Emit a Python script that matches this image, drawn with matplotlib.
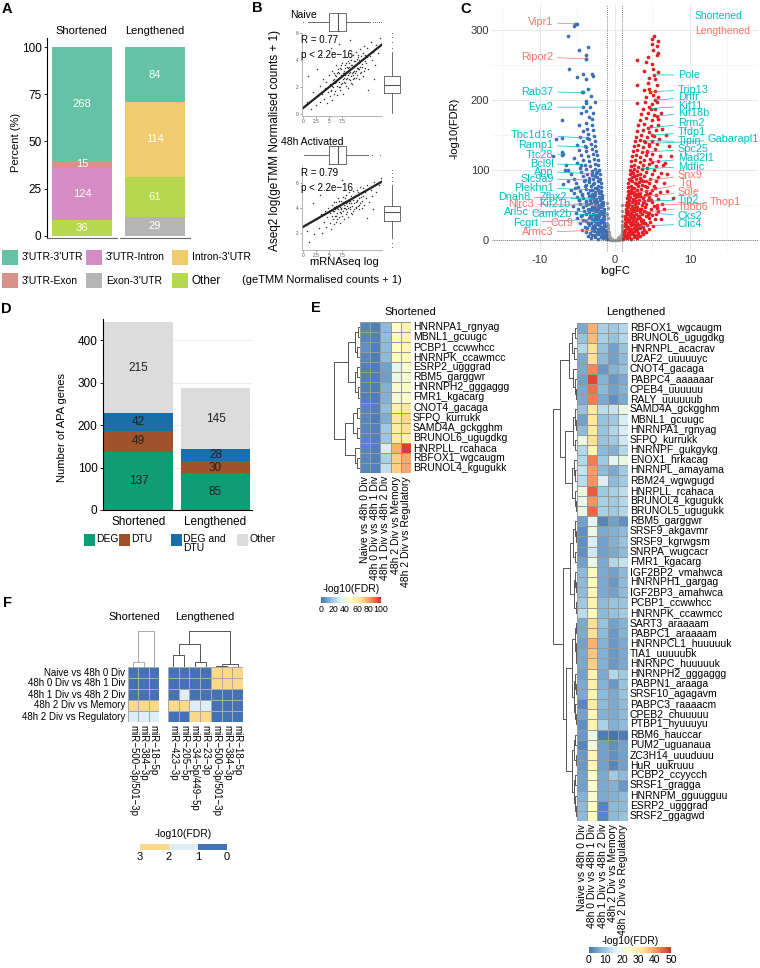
import matplotlib
matplotlib.use("Agg")
import matplotlib.pyplot as plt
import numpy as np
from matplotlib.colors import LinearSegmentedColormap, ListedColormap, BoundaryNorm, Normalize
from matplotlib.patches import Rectangle

plt.rcParams["font.family"] = ["Liberation Sans", "DejaVu Sans"]

W, H = 760, 968

# ---------------- A: APA event types ----------------
a_groups = ["Shortened", "Lengthened"]
a_short_cats = ["Other", "3'UTR-Intron", "3'UTR-Exon", "3'UTR-3'UTR"]
a_short_counts = [36, 124, 15, 268]
a_long_cats = ["Exon-3'UTR", "Other", "Intron-3'UTR", "3'UTR-3'UTR"]
a_long_counts = [29, 61, 114, 84]
a_legend = ["3'UTR-3'UTR", "3'UTR-Intron", "Intron-3'UTR", "3'UTR-Exon", "Exon-3'UTR", "Other"]
a_colors = {
    "3'UTR-3'UTR": "#66c2a5", "3'UTR-Intron": "#d68dc5", "Intron-3'UTR": "#f0cc6e",
    "3'UTR-Exon": "#d8918a", "Exon-3'UTR": "#b5b5b5", "Other": "#b6d84f",
}

# ---------------- B: Aseq vs mRNAseq ----------------
naive_pts = [
    (0.8, 0.9), (1.5, 0.4), (2.0, 1.6), (2.4, 0.7), (2.8, 1.3), (3.2, 2.1), (3.3, 0.9), (3.7, 1.5),
    (3.9, 2.6), (4.1, 1.1), (4.3, 1.9), (4.5, 2.4), (4.6, 0.8), (4.8, 1.6), (5.0, 2.9), (5.1, 1.3),
    (5.2, 2.2), (5.4, 1.8), (5.5, 3.2), (5.6, 1.0), (5.7, 2.5), (5.8, 2.0), (5.9, 1.5), (6.0, 3.0),
    (6.1, 2.3), (6.2, 1.7), (6.3, 2.8), (6.4, 3.6), (6.5, 2.1), (6.6, 1.4), (6.7, 2.6), (6.8, 3.1),
    (6.9, 2.0), (7.0, 2.4), (7.1, 3.4), (7.2, 1.8), (7.3, 2.9), (7.4, 2.2), (7.5, 3.8), (7.6, 2.6),
    (7.7, 1.5), (7.8, 3.2), (7.9, 2.4), (8.0, 2.9), (8.1, 3.6), (8.2, 2.1), (8.3, 3.1), (8.4, 4.2),
    (8.5, 2.7), (8.6, 3.4), (8.7, 1.9), (8.8, 3.0), (8.9, 3.8), (9.0, 2.5), (9.1, 3.3), (9.2, 4.0),
    (9.3, 2.8), (9.4, 3.6), (9.5, 2.2), (9.6, 3.1), (9.7, 4.4), (9.8, 3.5), (9.9, 2.7), (10.0, 3.9),
    (10.1, 3.2), (10.2, 4.6), (10.3, 2.9), (10.4, 3.7), (10.5, 4.2), (10.6, 3.3), (10.7, 2.6),
    (10.8, 4.0), (10.9, 3.5), (11.0, 4.8), (11.1, 3.1), (11.2, 4.3), (11.4, 3.7), (11.5, 2.8),
    (11.6, 4.1), (11.8, 5.0), (11.9, 3.4), (12.0, 4.4), (12.2, 3.8), (12.4, 4.9), (12.6, 3.3),
    (12.8, 4.3), (13.0, 5.3), (13.2, 4.0), (13.5, 4.6), (13.8, 3.6), (14.1, 5.1), (14.5, 4.5),
    (14.9, 5.6), (3.5, 4.4), (5.3, 4.9), (12.5, 1.8), (9.0, 5.5), (1.0, 2.8), (2.6, 3.3), (7.0, 5.2),
    (13.6, 2.6), (6.2, 2.9), (6.4, 2.4), (6.7, 3.3), (6.9, 2.7), (7.1, 2.0), (7.3, 3.6), (7.5, 2.3),
    (7.6, 3.0), (7.8, 2.7), (8.0, 3.4), (8.1, 2.3), (8.3, 2.6), (8.4, 3.5), (8.6, 2.9), (8.7, 3.9),
    (8.9, 2.6), (9.0, 3.1), (9.2, 3.6), (9.3, 2.3), (9.5, 3.4), (9.6, 2.9), (9.8, 3.9), (9.9, 3.2),
    (10.1, 3.6), (10.2, 2.7), (10.4, 4.1), (10.5, 3.4), (10.7, 3.8), (10.9, 3.0), (11.1, 4.0),
    (11.3, 3.5), (11.5, 4.5), (11.7, 3.2), (12.0, 3.9), (12.3, 4.2), (5.9, 2.6), (5.6, 2.1),
    (5.3, 1.7), (6.6, 3.0), (7.0, 3.0), (7.4, 3.3), (7.9, 3.0), (8.2, 3.8), (8.8, 3.5), (9.4, 3.0),
    (9.7, 2.6), (10.0, 3.0), (10.3, 3.4), (10.6, 4.4), (10.8, 3.3),
]
act_pts = [
    (0.8, 2.2), (1.5, 2.9), (2.1, 1.9), (2.6, 3.1), (3.0, 2.4), (3.4, 3.5), (3.6, 2.0), (4.0, 2.9),
    (4.2, 3.8), (4.5, 2.5), (4.7, 3.3), (4.9, 4.0), (5.1, 2.8), (5.2, 3.6), (5.4, 2.3), (5.5, 4.3),
    (5.7, 3.1), (5.8, 3.8), (5.9, 2.7), (6.0, 4.5), (6.1, 3.4), (6.2, 3.9), (6.3, 2.9), (6.4, 4.2),
    (6.5, 3.6), (6.6, 3.1), (6.7, 4.8), (6.8, 3.9), (6.9, 3.3), (7.0, 4.3), (7.1, 3.7), (7.2, 2.8),
    (7.3, 4.6), (7.4, 4.0), (7.5, 3.4), (7.6, 4.9), (7.7, 3.8), (7.8, 4.3), (7.9, 3.1), (8.0, 4.6),
    (8.1, 4.0), (8.2, 3.5), (8.3, 5.1), (8.4, 4.2), (8.5, 3.7), (8.6, 4.7), (8.7, 3.3), (8.8, 4.4),
    (8.9, 5.3), (9.0, 3.9), (9.1, 4.6), (9.2, 3.6), (9.3, 5.0), (9.4, 4.2), (9.5, 4.8), (9.6, 3.8),
    (9.7, 5.4), (9.8, 4.4), (9.9, 3.9), (10.0, 5.0), (10.1, 4.5), (10.2, 4.0), (10.3, 5.5),
    (10.4, 4.7), (10.5, 4.2), (10.6, 5.1), (10.7, 3.9), (10.8, 4.8), (10.9, 5.7), (11.0, 4.4),
    (11.2, 5.2), (11.4, 4.6), (11.6, 5.6), (11.8, 4.3), (12.0, 5.3), (12.2, 4.8), (12.4, 5.9),
    (12.7, 4.5), (13.0, 5.5), (13.3, 5.0), (13.7, 6.1), (14.1, 5.3), (14.6, 5.9), (15.0, 6.4),
    (6.0, 3.8), (6.3, 4.5), (6.6, 4.0), (6.9, 4.6), (7.1, 4.1), (7.4, 3.6), (7.7, 4.5), (7.9, 4.0),
    (8.1, 4.8), (8.3, 3.9), (8.5, 4.5), (8.7, 4.0), (8.9, 4.6), (9.1, 4.1), (9.3, 4.4), (9.5, 3.5),
    (9.7, 4.7), (9.9, 4.9), (10.1, 4.1), (10.3, 4.6), (10.5, 5.3), (10.8, 4.3), (11.1, 4.9),
    (11.3, 4.0), (11.5, 5.0), (5.5, 3.4), (5.9, 4.1), (6.4, 3.4), (7.3, 3.9), (8.2, 4.4),
    (2.0, 4.4), (3.2, 5.1), (12.3, 3.2), (7.5, 6.3), (1.2, 1.3), (13.5, 3.9),
]
naive_fit = [(0.0, 0.44), (15.2, 5.15)]
act_fit = [(0.0, 2.5), (15.2, 6.15)]
naive_top_box = dict(med=6.7, q1=5.0, q3=8.3, whislo=0.9, whishi=12.8, fliers=[0.0, 13.4, 13.8, 14.2, 14.6, 15.0])
naive_side_box = dict(med=2.15, q1=1.55, q3=2.8, whislo=0.05, whishi=4.6, fliers=[4.9, 5.3, 5.7, 6.0])
act_top_box = dict(med=6.7, q1=5.0, q3=8.3, whislo=0.2, whishi=12.6, fliers=[13.3, 14.9])
act_side_box = dict(med=3.7, q1=3.0, q3=4.2, whislo=1.6, whishi=5.9, fliers=[6.2, 6.5, 6.8, 7.1, 1.2, 0.9])

# ---------------- C: volcano ----------------
red_pts = [
    (1.1, 2), (1.3, 4), (1.6, 3), (1.9, 5), (2.2, 2), (2.6, 4), (3.0, 3),
    (1.2, 7), (1.5, 8), (1.8, 6), (2.1, 9), (2.5, 7), (2.9, 8), (3.3, 6), (3.7, 9),
    (1.2, 11), (1.4, 13), (1.7, 10), (2.0, 12), (2.3, 11), (2.7, 13), (3.1, 10), (3.6, 12), (4.1, 11),
    (1.3, 15), (1.6, 17), (1.9, 14), (2.2, 16), (2.5, 18), (2.9, 15), (3.4, 17), (3.9, 15), (4.6, 16),
    (1.3, 20), (1.5, 22), (1.8, 19), (2.1, 21), (2.4, 23), (2.8, 20), (3.2, 22), (3.7, 19), (4.3, 21), (5.1, 20),
    (1.4, 25), (1.7, 27), (2.0, 24), (2.3, 26), (2.7, 28), (3.0, 25), (3.5, 27), (4.0, 24), (4.7, 26),
    (1.4, 30), (1.6, 32), (1.9, 29), (2.2, 31), (2.6, 33), (2.9, 30), (3.3, 32), (3.8, 29), (4.5, 31), (5.4, 30),
    (1.4, 35), (1.7, 37), (2.0, 34), (2.4, 36), (2.8, 38), (3.1, 35), (3.6, 37), (4.2, 34), (5.0, 36),
    (1.5, 40), (1.8, 42), (2.1, 39), (2.5, 41), (2.9, 43), (3.4, 40), (3.9, 42), (4.6, 39), (5.8, 41),
    (1.5, 45), (1.8, 47), (2.2, 44), (2.6, 46), (3.0, 48), (3.5, 45), (4.0, 47), (4.8, 44), (5.6, 46),
    (1.5, 50), (1.9, 52), (2.3, 49), (2.7, 51), (3.1, 53), (3.6, 50), (4.2, 52), (5.2, 49), (6.3, 51),
    (1.6, 55), (1.9, 57), (2.3, 54), (2.8, 56), (3.2, 58), (3.7, 55), (4.4, 57), (5.0, 54),
    (1.6, 60), (2.0, 62), (2.4, 59), (2.8, 61), (3.3, 63), (3.8, 60), (4.5, 62), (5.8, 59),
    (1.7, 65), (2.1, 67), (2.5, 64), (2.9, 66), (3.4, 68), (4.0, 65), (4.7, 67), (5.5, 64),
    (1.7, 70), (2.1, 72), (2.6, 69), (3.0, 71), (3.5, 73), (4.1, 70), (4.9, 72), (6.0, 69),
    (1.8, 76), (2.2, 78), (2.6, 75), (3.1, 77), (3.6, 79), (4.3, 76), (5.2, 78),
    (1.8, 82), (2.3, 84), (2.7, 81), (3.2, 83), (3.8, 85), (4.5, 82), (5.5, 84), (6.6, 81),
    (1.9, 88), (2.3, 90), (2.8, 87), (3.3, 89), (3.9, 91), (4.7, 88), (5.8, 90),
    (2.0, 94), (2.4, 96), (2.9, 93), (3.4, 95), (4.1, 97), (4.9, 94), (6.2, 96),
    (2.0, 100), (2.5, 102), (3.0, 99), (3.6, 101), (4.3, 103), (5.2, 100),
    (2.1, 106), (2.6, 108), (3.1, 105), (3.7, 107), (4.5, 109), (5.5, 106), (6.4, 108),
    (2.2, 113), (2.7, 115), (3.3, 112), (3.9, 114), (4.7, 116), (5.8, 113),
    (2.3, 120), (2.8, 122), (3.4, 119), (4.1, 121), (5.0, 123), (6.0, 120),
    (2.4, 127), (3.0, 129), (3.6, 126), (4.3, 128), (5.3, 130),
    (2.5, 134), (3.1, 136), (3.8, 133), (4.6, 135), (5.6, 137), (7.2, 135),
    (2.7, 141), (3.3, 143), (4.0, 140), (4.9, 142), (5.9, 144),
    (2.8, 148), (3.5, 150), (4.3, 147), (5.2, 149), (6.8, 150),
    (3.0, 156), (3.7, 158), (4.5, 155), (5.5, 157), (6.3, 159),
    (3.1, 164), (3.9, 166), (4.8, 163), (5.8, 165),
    (3.3, 172), (4.1, 174), (5.0, 171), (5.7, 173),
    (3.5, 180), (4.4, 182), (5.2, 179), (6.1, 181),
    (3.7, 188), (4.6, 190), (5.4, 187),
    (2.9, 196), (4.0, 198), (4.9, 195), (5.6, 197),
    (4.2, 205), (5.1, 207), (5.8, 204),
    (3.9, 214), (4.5, 216), (5.3, 213),
    (2.9, 222), (4.4, 224), (5.6, 221),
    (4.6, 232), (5.4, 230),
    (3.9, 242), (5.1, 244), (5.8, 240),
    (4.2, 254), (5.0, 252),
    (4.4, 262), (5.6, 264), (2.9, 258),
    (5.1, 272), (5.8, 268),
    (4.9, 280), (5.6, 278),
    (5.0, 288), (5.8, 284), (5.2, 292),
    (7.5, 120), (6.9, 95), (7.0, 70), (6.5, 45), (6.2, 30), (7.8, 60), (6.7, 110),
    (1.35, 5), (1.75, 9), (2.4, 12), (2.05, 16), (2.65, 21), (1.55, 26), (2.45, 30), (3.2, 34),
    (1.65, 38), (2.35, 43), (2.85, 47), (1.75, 53), (2.55, 58), (3.05, 63), (1.95, 68), (2.35, 74),
    (2.9, 80), (2.05, 86), (2.6, 92), (2.25, 98), (3.35, 44), (3.85, 56), (4.35, 66), (3.45, 86),
    (4.0, 78), (3.65, 24), (3.0, 17), (4.4, 36), (4.8, 58), (5.3, 75),
]
blue_pts = [
    (-1.1, 2), (-1.3, 4), (-1.6, 3), (-1.9, 5), (-2.3, 2), (-2.7, 4), (-3.2, 3),
    (-1.2, 7), (-1.5, 8), (-1.8, 6), (-2.2, 9), (-2.6, 7), (-3.0, 8), (-3.6, 6),
    (-1.2, 11), (-1.4, 13), (-1.7, 10), (-2.0, 12), (-2.4, 11), (-2.8, 13), (-3.3, 10), (-3.9, 12),
    (-1.3, 15), (-1.6, 17), (-1.9, 14), (-2.3, 16), (-2.7, 18), (-3.1, 15), (-3.7, 17), (-4.4, 15),
    (-1.3, 20), (-1.5, 22), (-1.8, 19), (-2.1, 21), (-2.5, 23), (-2.9, 20), (-3.4, 22), (-4.0, 19),
    (-1.4, 25), (-1.7, 27), (-2.0, 24), (-2.4, 26), (-2.8, 28), (-3.2, 25), (-3.8, 27), (-4.6, 24),
    (-1.4, 30), (-1.6, 32), (-1.9, 29), (-2.2, 31), (-2.6, 33), (-3.0, 30), (-3.5, 32), (-4.2, 29), (-5.0, 31),
    (-1.4, 35), (-1.7, 37), (-2.1, 34), (-2.5, 36), (-2.9, 38), (-3.3, 35), (-3.9, 37), (-4.5, 34),
    (-1.5, 40), (-1.8, 42), (-2.1, 39), (-2.5, 41), (-3.0, 43), (-3.5, 40), (-4.1, 42), (-5.2, 39),
    (-1.5, 45), (-1.9, 47), (-2.2, 44), (-2.6, 46), (-3.1, 48), (-3.6, 45), (-4.3, 47), (-4.9, 44),
    (-1.6, 50), (-1.9, 52), (-2.3, 49), (-2.7, 51), (-3.2, 53), (-3.8, 50), (-4.6, 52), (-5.6, 49),
    (-1.6, 55), (-2.0, 57), (-2.4, 54), (-2.8, 56), (-3.3, 58), (-3.9, 55), (-4.8, 57),
    (-1.7, 60), (-2.1, 62), (-2.5, 59), (-2.9, 61), (-3.5, 63), (-4.2, 60), (-5.1, 62),
    (-1.7, 65), (-2.1, 67), (-2.6, 64), (-3.0, 66), (-3.6, 68), (-4.4, 65), (-5.5, 67),
    (-1.8, 70), (-2.2, 72), (-2.6, 69), (-3.1, 71), (-3.8, 73), (-4.6, 70), (-5.8, 72),
    (-1.8, 76), (-2.3, 78), (-2.7, 75), (-3.2, 77), (-3.9, 79), (-4.9, 76),
    (-1.9, 82), (-2.3, 84), (-2.8, 81), (-3.4, 83), (-4.1, 85), (-5.2, 82), (-6.3, 84),
    (-2.0, 88), (-2.4, 90), (-2.9, 87), (-3.5, 89), (-4.3, 91), (-5.5, 88),
    (-2.0, 94), (-2.5, 96), (-3.0, 93), (-3.7, 95), (-4.5, 97), (-5.9, 94),
    (-2.1, 100), (-2.6, 102), (-3.1, 99), (-3.8, 101), (-4.7, 103), (-6.2, 100),
    (-2.2, 107), (-2.7, 109), (-3.3, 106), (-4.0, 108), (-5.0, 110), (-6.5, 107),
    (-2.3, 114), (-2.8, 116), (-3.4, 113), (-4.2, 115), (-5.4, 117),
    (-2.4, 121), (-2.9, 123), (-3.6, 120), (-4.5, 122), (-7.1, 122), (-8.2, 120),
    (-2.5, 128), (-3.1, 130), (-3.8, 127), (-4.8, 129), (-7.0, 126),
    (-2.6, 135), (-3.2, 137), (-4.0, 134), (-5.1, 136),
    (-2.7, 142), (-3.4, 144), (-4.3, 141), (-7.8, 145), (-7.1, 146),
    (-2.8, 149), (-3.6, 151), (-4.6, 148),
    (-2.9, 157), (-3.7, 159), (-4.2, 156),
    (-3.0, 165), (-3.9, 167), (-4.8, 164),
    (-3.1, 173), (-3.5, 176), (-7.0, 172),
    (-2.9, 182), (-3.9, 184), (-4.5, 181),
    (-2.7, 198), (-3.8, 196), (-3.9, 199), (-3.3, 190),
    (-4.4, 211), (-3.2, 206), (-3.6, 216),
    (-2.9, 235), (-3.0, 237), (-4.2, 238), (-5.0, 233), (-3.9, 230),
    (-6.1, 244), (-3.9, 259), (-3.9, 264), (-4.8, 271), (-3.6, 276),
    (-6.2, 292), (-5.4, 306), (-5.1, 309),
    (-1.35, 5), (-1.75, 9), (-2.45, 12), (-2.05, 16), (-2.65, 21), (-1.55, 26), (-2.45, 30), (-3.25, 34),
    (-1.65, 38), (-2.35, 43), (-2.85, 47), (-1.75, 53), (-2.55, 58), (-3.05, 63), (-1.95, 68), (-2.35, 74),
    (-2.95, 80), (-2.15, 86), (-2.65, 92), (-2.35, 98), (-3.35, 44), (-3.85, 56), (-4.35, 66), (-3.45, 86),
    (-4.0, 78), (-3.65, 24), (-3.0, 17), (-4.4, 36), (-4.8, 58), (-5.3, 75), (-6.6, 100), (-6.9, 80),
]
grey_pts = [
    (-1.0, 2), (-0.8, 1), (-0.6, 0.6), (-0.4, 0.3), (-0.2, 0.1), (0.0, 0), (0.2, 0.1), (0.4, 0.3),
    (0.6, 0.6), (0.8, 1), (1.0, 2), (-0.9, 5), (-0.7, 3), (-0.5, 1.5), (0.5, 1.5), (0.7, 3), (0.9, 5),
    (-0.3, 0.8), (0.3, 0.8), (-0.6, 4), (0.6, 4), (-1.0, 9), (-0.9, 13), (-0.8, 7), (-0.95, 18),
    (-1.0, 24), (-0.95, 31), (-1.0, 38), (-0.98, 46), (-1.0, 53), (-0.9, 22), (-0.85, 11),
    (1.0, 9), (0.95, 15), (0.9, 11), (1.0, 21), (0.98, 28), (1.0, 35), (0.97, 42), (1.0, 50),
    (0.9, 19), (0.85, 8), (-0.75, 5), (0.75, 6), (-0.45, 2), (0.45, 2.5),
]
# name, group (S = shortened colour, L = lengthened colour), text x, text y, point x, point y
volcano_labels = [
    ("Vipr1", "L", -8.2, 311, -5.3, 309), ("Ripor2", "L", -8.2, 262, -3.9, 259),
    ("Rab37", "S", -8.2, 212, -4.3, 211), ("Eya2", "S", -8.2, 190, -4.2, 190),
    ("Tbc1d16", "S", -8.2, 150, -3.7, 146), ("Ramp1", "S", -8.2, 136, -3.8, 133),
    ("Ttc28", "S", -8.2, 122, -6.9, 123), ("Bcl9l", "S", -8.2, 109, -4.5, 108),
    ("App", "S", -8.2, 98, -3.0, 95), ("Slc9a9", "S", -8.2, 88, -4.0, 86),
    ("Plekhn1", "S", -8.2, 75, -3.3, 72), ("Dnah8", "S", -11.3, 61, -3.0, 60),
    ("Zfhx2", "S", -6.4, 61, -2.7, 58), ("Nlrc3", "L", -10.8, 51, -2.3, 50),
    ("Kif21b", "S", -6.0, 51, -3.4, 52), ("Arl5c", "S", -11.5, 40, -2.6, 41),
    ("Camk2b", "S", -5.7, 38, -2.2, 36), ("Fcgrt", "S", -10.3, 25, -2.8, 30),
    ("Ccr9", "L", -5.6, 24, -2.0, 27), ("Armc3", "L", -8.2, 11, -3.0, 14),
    ("Pole", "S", 8.4, 236, 5.2, 236), ("Trip13", "S", 8.4, 215, 4.7, 212),
    ("Dhfr", "S", 8.4, 204, 5.4, 200), ("Kif11", "S", 8.4, 192, 4.8, 188),
    ("Kif18b", "S", 8.4, 181, 5.6, 178), ("Rrm2", "S", 8.4, 167, 4.4, 160),
    ("Tfdp1", "S", 8.4, 154, 4.9, 150), ("Tipin", "S", 8.4, 141, 3.9, 142),
    ("Gabarapl1", "S", 12.4, 144, 4.6, 138), ("Spc25", "S", 8.4, 130, 4.3, 126),
    ("Mad2l1", "S", 8.4, 117, 5.0, 112), ("Mdfic", "S", 8.4, 105, 3.6, 102),
    ("Snx9", "L", 8.4, 93, 4.1, 85), ("Tg", "L", 8.6, 81, 3.2, 68),
    ("Sqle", "L", 8.4, 69, 3.7, 62), ("Tjp2", "S", 8.4, 58, 3.0, 55),
    ("Thop1", "L", 12.7, 54, 5.6, 50), ("Tubb6", "L", 8.4, 47, 4.1, 40),
    ("Cks2", "S", 8.4, 35, 5.5, 38), ("Clic4", "S", 8.4, 23, 3.3, 20),
]

# ---------------- D: APA genes by DE / DTU ----------------
d_groups = ["Shortened", "Lengthened"]
d_cats = ["DEG", "DTU", "DEG and\nDTU", "Other"]
d_short = [137, 49, 42, 215]
d_long = [85, 30, 28, 145]
d_colors = ["#109c74", "#a0522a", "#1a6fa6", "#dcdcdc"]

# ---------------- E: RBP motif enrichment ----------------
comparisons = ["Naive vs 48h 0 Div", "48h 0 Div vs 48h 1 Div", "48h 1 Div vs 48h 2 Div",
               "48h 2 Div vs Memory", "48h 2 Div vs Regulatory"]
e_short_rows = ["HNRNPA1_rgnyag", "MBNL1_gcuugc", "PCBP1_ccwwhcc", "HNRNPK_ccawmcc", "ESRP2_ugggrad",
                "RBM5_garggwr", "HNRNPH2_gggaggg", "FMR1_kgacarg", "CNOT4_gacaga", "SFPQ_kurrukk",
                "SAMD4A_gckgghm", "BRUNOL6_ugugdkg", "HNRPLL_rcahaca", "RBFOX1_wgcaugm", "BRUNOL4_kgugukk"]
e_short_vals = [
    [4, 3, 16, 50, 56], [4, 3, 17, 52, 56], [6, 3, 16, 50, 54], [4, 2, 16, 50, 53],
    [3, 2, 10, 36, 45], [3, 2, 9, 40, 44], [3, 2, 14, 45, 48], [3, 2, 14, 44, 47],
    [4, 3, 17, 58, 62], [4, 2, 13, 62, 68], [4, 3, 20, 60, 66], [4, 3, 19, 62, 58],
    [4, 3, 32, 76, 97], [4, 3, 22, 70, 78], [4, 3, 27, 70, 78],
]
e_long_rows = ["RBFOX1_wgcaugm", "BRUNOL6_ugugdkg", "HNRNPL_acacrav", "U2AF2_uuuuuyc", "CNOT4_gacaga",
               "PABPC4_aaaaaar", "CPEB4_uuuuuu", "RALY_uuuuuub", "SAMD4A_gckgghm", "MBNL1_gcuugc",
               "HNRNPA1_rgnyag", "SFPQ_kurrukk", "HNRNPF_gukgykg", "ENOX1_hrkacag", "HNRNPL_amayama",
               "RBM24_wgwgugd", "HNRPLL_rcahaca", "BRUNOL4_kgugukk", "BRUNOL5_ugugukk", "RBM5_garggwr",
               "SRSF9_akgavmr", "SRSF9_kgrwgsm", "SNRPA_wugcacr", "FMR1_kgacarg", "IGF2BP2_vmahwca",
               "HNRNPH1_gargag", "IGF2BP3_amahwca", "PCBP1_ccwwhcc", "HNRNPK_ccawmcc", "SART3_araaaam",
               "PABPC1_araaaam", "HNRNPCL1_huuuuuk", "TIA1_uuuuubk", "HNRNPC_huuuuuk", "HNRNPH2_gggaggg",
               "PABPN1_araaga", "SRSF10_agagavm", "PABPC3_raaaacm", "CPEB2_chuuuuu", "PTBP1_hyuuuyu",
               "RBM6_hauccar", "PUM2_uguanaua", "ZC3H14_uuuduuu", "HuR_uukruuu", "PCBP2_ccyycch",
               "SRSF1_gragga", "HNRNPM_gguugguu", "ESRP2_ugggrad", "SRSF2_ggagwd"]
e_long_vals = [
    [6, 38, 11, 10, 12], [9, 37, 11, 9, 12], [12, 33, 9, 5, 9], [6, 33, 8, 5, 8], [6, 42, 4, 7, 9],
    [5, 48, 7, 4, 6], [6, 44, 8, 5, 7], [6, 43, 6, 3, 6], [9, 31, 13, 14, 20], [5, 31, 9, 10, 16],
    [8, 31, 9, 12, 16], [20, 33, 9, 10, 15], [12, 28, 8, 7, 12], [12, 43, 10, 18, 20], [14, 40, 8, 6, 10],
    [13, 41, 16, 8, 10], [20, 46, 10, 11, 13], [19, 41, 11, 10, 12], [19, 45, 11, 10, 12], [5, 18, 2, 5, 3],
    [3, 20, 6, 7, 8], [3, 16, 5, 7, 9], [3, 15, 5, 6, 8], [5, 20, 6, 12, 14], [8, 26, 6, 5, 8],
    [8, 26, 6, 4, 8], [8, 27, 6, 5, 8], [10, 28, 8, 9, 9], [13, 26, 8, 9, 10], [6, 33, 9, 5, 7],
    [6, 33, 8, 4, 7], [5, 38, 7, 4, 6], [6, 36, 7, 4, 6], [6, 35, 7, 4, 6], [5, 28, 6, 12, 10],
    [6, 29, 7, 4, 9], [6, 28, 8, 6, 9], [2, 30, 8, 6, 8], [5, 27, 7, 6, 8], [3, 28, 11, 7, 8],
    [4, 20, 1, 0, 1], [2, 21, 5, 3, 5], [4, 27, 5, 3, 5], [4, 27, 5, 2, 5], [5, 24, 6, 10, 8],
    [5, 24, 6, 7, 4], [7, 23, 6, 7, 8], [8, 25, 2, 8, 8], [8, 26, 2, 8, 9],
]
# dendrograms as (left, right, height), leaves are row / column indices
e_short_tree = ((((0, 1, .08), (2, 3, .1), .2), ((4, 5, .1), (6, 7, .08), .18), .45),
                (((8, 9, .12), (10, 11, .1), .25), (12, (13, 14, .1), .2), .55), 1.0)
e_long_tree = (
    ((((0, 1, .1), (2, 3, .12), .2), (4, (5, (6, 7, .05), .08), .15), .35),
     (((8, (9, 10, .06), .1), (11, 12, .09), .18), ((13, (14, 15, .08), .14), (16, (17, 18, .06), .1), .2), .5), .72),
    ((((19, (20, 21, .05), .1), (22, 23, .09), .16), ((24, (25, 26, .04), .07), (27, 28, .06), .12), .3),
     ((((29, 30, .05), (31, (32, 33, .03), .06), .1), ((34, (35, 36, .05), .08), (37, (38, 39, .06), .08), .12), .22),
      (((40, 41, .08), (42, 43, .05), .12), ((44, 45, .07), (46, (47, 48, .04), .08), .11), .2), .45), .6),
    1.0)

# ---------------- F: miRNA enrichment ----------------
f_short_cols = ["miR−500−3p/501−3p", "miR−384−3p", "miR−18−5p"]
f_long_cols = ["miR−423−3p", "miR−205−5p", "miR−34−5p/449−5p", "miR−23−3p",
               "miR−500−3p/501−3p", "miR−384−3p", "miR−18−5p"]
f_short_vals = [[0.3, 0.3, 0.3], [0.3, 0.3, 0.3], [0.3, 0.3, 0.3], [2.6, 2.6, 2.6], [1.5, 1.5, 1.5]]
f_long_vals = [
    [0.3, 0.3, 0.3, 0.3, 2.6, 2.6, 2.6],
    [0.3, 0.3, 0.3, 0.3, 2.6, 2.6, 2.6],
    [0.3, 1.5, 0.3, 0.3, 0.3, 0.3, 0.3],
    [2.6, 2.6, 1.5, 1.5, 0.3, 0.3, 0.3],
    [0.3, 0.3, 2.6, 2.6, 0.3, 0.3, 0.3],
]
f_short_tree = ((0, 1, .14), 2, 1.0)
f_long_tree = (((0, 1, .33), (2, 3, .14), .64), ((4, 5, .04), 6, .07), 1.0)

SHORT_C = "#00bfc4"
LONG_C = "#f8766d"

fig = plt.figure(figsize=(W / 100, H / 100), dpi=100)


def px_axes(x0, y0, x1, y1):
    return fig.add_axes([x0 / W, 1 - y1 / H, (x1 - x0) / W, (y1 - y0) / H])


def draw_tree(ax, node, orient, color, lw=0.7):
    if isinstance(node, int):
        return node + 0.5, 0.0
    left, right, h = node
    pl, hl = draw_tree(ax, left, orient, color, lw)
    pr, hr = draw_tree(ax, right, orient, color, lw)
    if orient == "left":
        ax.plot([hl, h, h, hr], [pl, pl, pr, pr], color=color, lw=lw, solid_capstyle="butt")
    else:
        ax.plot([pl, pl, pr, pr], [hl, h, h, hr], color=color, lw=lw, solid_capstyle="butt")
    return (pl + pr) / 2, h


def heat(ax, vals, cmap, norm, edge="#999999"):
    arr = np.array(vals, dtype=float)
    n, m = arr.shape
    ax.pcolormesh(np.arange(m + 1), np.arange(n + 1), arr, cmap=cmap, norm=norm,
                  edgecolors=edge, linewidth=0.5)
    ax.set_xlim(0, m)
    ax.set_ylim(n, 0)
    ax.axis("off")


# ===== A =====
for i, (cats, counts, (x0, x1)) in enumerate([(a_short_cats, a_short_counts, (47, 117)),
                                               (a_long_cats, a_long_counts, (120, 190))]):
    ax = px_axes(x0, 38, x1, 238)
    pct = np.array(counts) / sum(counts) * 100
    bottom = 0
    for cat, cnt, p in zip(cats, counts, pct):
        ax.bar(1, p, bottom=bottom, width=0.9, color=a_colors[cat], linewidth=0)
        ax.text(1, bottom + p / 2, str(cnt), color="white", ha="center", va="center", fontsize=8)
        bottom += p
    ax.set_xlim(0.48, 1.52)
    ax.set_ylim(-1.2, 104.8)
    ax.set_xticks([])
    for s in ["top", "right"]:
        ax.spines[s].set_visible(False)
    ax.spines["bottom"].set_color("#666666")
    ax.spines["bottom"].set_linewidth(0.8)
    if i == 0:
        ax.set_yticks([0, 25, 50, 75, 100])
        ax.tick_params(axis="y", labelsize=8.5, length=2.5, width=0.6, pad=1.5)
        ax.spines["left"].set_linewidth(0.8)
    else:
        ax.spines["left"].set_visible(False)
        ax.set_yticks([])
    ax.patch.set_alpha(0)

# ===== B =====
def scatter_panel(pts, fit, top_box, side_box, y0, y1, ylim, yticks):
    ax = px_axes(302, y0, 382, y1)
    xs = [p[0] for p in pts]
    ys = [p[1] for p in pts]
    ax.scatter(xs, ys, s=1.1, color="#333333", linewidths=0)
    ax.plot([f[0] for f in fit], [f[1] for f in fit], color="#222222", lw=1.6)
    ax.set_xlim(-0.2, 15.2)
    ax.set_ylim(*ylim)
    ax.set_xticks([0, 2.5, 5, 7.5])
    ax.set_xticklabels(["0", "2.5", "5", "7.5"])
    ax.set_yticks(yticks)
    ax.tick_params(labelsize=3.5, length=1.2, width=0.4, pad=1, colors="#555555")
    for s in ["top", "right"]:
        ax.spines[s].set_visible(False)
    for s in ["left", "bottom"]:
        ax.spines[s].set_color("#aaaaaa")
        ax.spines[s].set_linewidth(0.6)

    props = dict(boxprops=dict(color="#555555", lw=0.6), whiskerprops=dict(color="#555555", lw=0.6),
                 capprops=dict(lw=0), medianprops=dict(color="#555555", lw=0.8),
                 flierprops=dict(marker=".", markersize=1.5, markerfacecolor="#555555", markeredgecolor="none"))
    axt = px_axes(302, y0 - 21, 382, y0 - 1)
    axt.bxp([top_box], positions=[0], widths=0.9, orientation="horizontal", **props)
    axt.set_xlim(-0.2, 15.2)
    axt.set_ylim(-0.5, 0.5)
    axt.axis("off")
    axs = px_axes(383, y0, 401, y1)
    axs.bxp([side_box], positions=[0], widths=0.9, **props)
    axs.set_ylim(*ylim)
    axs.set_xlim(-0.5, 0.5)
    axs.axis("off")


scatter_panel(naive_pts, naive_fit, naive_top_box, naive_side_box, 33, 116, (-0.15, 6.0), [0, 2, 4, 6])
scatter_panel(act_pts, act_fit, act_top_box, act_side_box, 166, 250, (0.64, 7.4), [2, 4, 6])

# ===== C =====
axc = px_axes(492, 5, 758, 252)
axc.set_xlim(-16.4, 19.1)
axc.set_ylim(-17, 336)
for v in [-15, -5, 5, 15]:
    axc.axvline(v, color="#f3f3f3", lw=0.5, zorder=0)
for v in [-10, 0, 10]:
    axc.axvline(v, color="#e8e8e8", lw=0.7, zorder=0)
for v in [50, 150, 250]:
    axc.axhline(v, color="#f3f3f3", lw=0.5, zorder=0)
for v in [0, 100, 200, 300]:
    axc.axhline(v, color="#e8e8e8", lw=0.7, zorder=0)
axc.scatter([p[0] for p in grey_pts], [p[1] for p in grey_pts], s=6, color="#9a9a9a", linewidths=0, zorder=2)
axc.scatter([p[0] for p in blue_pts], [p[1] for p in blue_pts], s=7, color="#3f6fb3", linewidths=0, zorder=2)
axc.scatter([p[0] for p in red_pts], [p[1] for p in red_pts], s=7, color="#e31e24", linewidths=0, zorder=2)
axc.axhline(0, color="#555555", lw=0.6, ls=(0, (1, 1.5)), zorder=3)
axc.axvline(-1, color="#555555", lw=0.6, ls=(0, (1, 1.5)), zorder=3)
axc.axvline(1, color="#555555", lw=0.6, ls=(0, (1, 1.5)), zorder=3)
for name, grp, tx, ty, px, py in volcano_labels:
    col = SHORT_C if grp == "S" else LONG_C
    axc.scatter([px], [py], s=7, color="#3f6fb3" if px < 0 else "#e31e24", linewidths=0, zorder=2)
    axc.annotate(name, xy=(px, py), xytext=(tx, ty), textcoords="data", color=col, fontsize=7.8,
                 ha="right" if tx < 0 else "left", va="center", zorder=4,
                 arrowprops=dict(arrowstyle="-", color=col, lw=0.5, shrinkA=1, shrinkB=0))
axc.set_xticks([-10, 0, 10])
axc.set_xticklabels(["-10", "0", "10"])
axc.set_yticks([0, 100, 200, 300])
axc.tick_params(labelsize=8, length=0, colors="#333333", pad=2)
for s in axc.spines.values():
    s.set_visible(False)
axc.patch.set_alpha(0)

# ===== D =====
axd = px_axes(103, 319, 252, 510)
for v in [100, 200, 300, 400]:
    axd.axhline(v, color="#ececec", lw=0.7, zorder=0)
for gi, vals in enumerate([d_short, d_long]):
    bottom = 0
    for cat, v, c in zip(d_cats, vals, d_colors):
        axd.bar(gi + 1, v, bottom=bottom, width=0.9, color=c, linewidth=0, zorder=2)
        axd.text(gi + 1, bottom + v / 2, str(v), ha="center", va="center", fontsize=8.5, color="#222222", zorder=3)
        bottom += v
axd.set_xlim(0.539, 2.474)
axd.set_ylim(0, 450)
axd.set_yticks([0, 100, 200, 300, 400])
axd.set_xticks([1, 2])
axd.set_xticklabels(d_groups)
axd.tick_params(labelsize=8.5, length=2.5, width=0.6, pad=1.5)
axd.tick_params(axis="x", length=0, pad=4)
for s in ["top", "right"]:
    axd.spines[s].set_visible(False)
for s in ["left", "bottom"]:
    axd.spines[s].set_linewidth(0.8)
axd.patch.set_alpha(0)

# ===== E =====
e_cmap = LinearSegmentedColormap.from_list(
    "rdylbu_r", ["#4575b4", "#91bfdb", "#e0f3f8", "#ffffbf", "#fee090", "#fc8d59", "#d73027"])
ax = px_axes(360, 322, 411, 473)
heat(ax, e_short_vals, e_cmap, Normalize(0, 100))
ax = px_axes(333, 322, 360, 473)
draw_tree(ax, e_short_tree, "left", "#555555")
ax.set_xlim(1.02, 0)
ax.set_ylim(len(e_short_rows), 0)
ax.axis("off")

ax = px_axes(577, 323, 628, 821)
heat(ax, e_long_vals, e_cmap, Normalize(0, 50))
ax = px_axes(553, 323, 577, 821)
draw_tree(ax, e_long_tree, "left", "#555555")
ax.set_xlim(1.02, 0)
ax.set_ylim(len(e_long_rows), 0)
ax.axis("off")

for (x0, x1, yb, lim, ticks, fs) in [(321, 381, 597, 100, [0, 20, 40, 60, 80, 100], 6.3),
                                     (589, 671, 947, 50, [0, 10, 20, 30, 40, 50], 7.5)]:
    cax = px_axes(x0, yb, x1, yb + 6)
    sm = plt.cm.ScalarMappable(norm=Normalize(0, lim), cmap=e_cmap)
    cb = fig.colorbar(sm, cax=cax, orientation="horizontal", ticks=ticks)
    cb.outline.set_visible(False)
    cax.tick_params(length=0, labelsize=fs, pad=1.5)

# ===== F =====
f_cmap = ListedColormap(["#4472b4", "#ddeef6", "#fbd98b"])
f_norm = BoundaryNorm([0, 1, 2, 3], 3)
ax = px_axes(128, 667, 159, 722)
heat(ax, f_short_vals, f_cmap, f_norm, edge="#aaaaaa")
ax = px_axes(168, 667, 243, 722)
heat(ax, f_long_vals, f_cmap, f_norm, edge="#aaaaaa")
ax = px_axes(128, 630, 159, 667)
draw_tree(ax, f_short_tree, "top", "#aaaaaa")
ax.set_xlim(0, 3)
ax.set_ylim(0, 1.03)
ax.axis("off")
ax = px_axes(168, 630, 243, 667)
draw_tree(ax, f_long_tree, "top", "#555555")
ax.set_xlim(0, 7)
ax.set_ylim(0, 1.03)
ax.axis("off")
cax = px_axes(140, 844, 227, 850)
sm = plt.cm.ScalarMappable(norm=f_norm, cmap=f_cmap)
cb = fig.colorbar(sm, cax=cax, orientation="horizontal", ticks=[0, 1, 2, 3])
cb.outline.set_visible(False)
cax.invert_xaxis()
cax.tick_params(length=0, labelsize=8, pad=1.5)

# ===== overlay: panel letters, titles, legends, row / column labels =====
ov = fig.add_axes([0, 0, 1, 1])
ov.set_xlim(0, W)
ov.set_ylim(H, 0)
ov.axis("off")

for letter, x, y in [("A", 7, 9), ("B", 257, 8), ("C", 466, 9), ("D", 6, 309), ("E", 316, 308), ("F", 8, 603)]:
    ov.text(x, y, letter, fontsize=10.5, fontweight="bold", ha="center", va="center")

# A
ov.text(81, 31, "Shortened", fontsize=8, ha="center", va="center")
ov.text(155, 31, "Lengthened", fontsize=8, ha="center", va="center")
ov.text(16, 142, "Percent (%)", fontsize=8, rotation=90, ha="center", va="center")
legend_pos = [(2, 250), (86, 250), (172, 250), (2, 273), (86, 273), (172, 273)]
for name, (lx, ly) in zip(a_legend, legend_pos):
    ov.add_patch(Rectangle((lx, ly), 16, 15, color=a_colors[name], lw=0))
    ov.text(lx + 20, ly + 7.5, name, fontsize=8.5 if name == "Other" else 7.5, ha="left", va="center")

# B
ov.text(290, 15, "Naive", fontsize=7.5, ha="left", va="center")
ov.text(281, 142, "48h Activated", fontsize=7.5, ha="left", va="center")
ov.text(301, 40, "R = 0.77", fontsize=7, ha="left", va="center")
ov.text(301, 55, "p < 2.2e−16", fontsize=7, ha="left", va="center")
ov.text(301, 173, "R = 0.79", fontsize=7, ha="left", va="center")
ov.text(301, 188, "p < 2.2e−16", fontsize=7, ha="left", va="center")
ov.text(275, 140, "Aseq2 log(geTMM Normalised counts + 1)", fontsize=8.5, rotation=90, ha="center", va="center")
ov.text(344, 262, "mRNAseq log", fontsize=8, ha="center", va="center")
ov.text(322, 280, "(geTMM Normalised counts + 1)", fontsize=8, ha="center", va="center")

# C
ov.text(455, 128, "-log10(FDR)", fontsize=8, rotation=90, ha="center", va="center")
ov.text(615, 271, "logFC", fontsize=8, ha="center", va="center")
ov.text(695, 16, "Shortened", fontsize=7.5, color=SHORT_C, ha="left", va="center")
ov.text(695, 31, "Lengthened", fontsize=7.5, color=LONG_C, ha="left", va="center")

# D
ov.text(62, 428, "Number of APA genes", fontsize=8, rotation=90, ha="center", va="center")
d_leg = [(84, "DEG"), (119, "DTU"), (171, "DEG and\nDTU"), (237, "Other")]
for (lx, name), c in zip(d_leg, d_colors):
    ov.add_patch(Rectangle((lx, 534), 11, 12, color=c, lw=0))
    ov.text(lx + 12, 534, name, fontsize=7.5, ha="left", va="top", linespacing=0.85)

# E
ov.text(410, 312, "Shortened", fontsize=8, ha="center", va="center")
ov.text(636, 312, "Lengthened", fontsize=8, ha="center", va="center")
rh = (473 - 322) / len(e_short_rows)
for i, name in enumerate(e_short_rows):
    ov.text(413, 322 + rh * (i + 0.5), name, fontsize=7.5, ha="left", va="center")
rh = (821 - 323) / len(e_long_rows)
for i, name in enumerate(e_long_rows):
    ov.text(630, 323 + rh * (i + 0.5), name, fontsize=7.5, ha="left", va="center")
cw = (411 - 360) / 5
for j, name in enumerate(comparisons):
    ov.text(360 + cw * (j + 0.5), 476, name, fontsize=7.5, rotation=90, ha="center", va="top")
cw = (628 - 577) / 5
for j, name in enumerate(comparisons):
    ov.text(577 + cw * (j + 0.5), 824, name, fontsize=7.5, rotation=90, ha="center", va="top")
ov.text(351, 589, "-log10(FDR)", fontsize=7.5, ha="center", va="center")
ov.text(630, 941, "-log10(FDR)", fontsize=7.5, ha="center", va="center")

# F
ov.text(134, 617, "Shortened", fontsize=8, ha="center", va="center")
ov.text(205, 617, "Lengthened", fontsize=8, ha="center", va="center")
for i, name in enumerate(comparisons):
    ov.text(125, 667 + 11 * (i + 0.5), name, fontsize=7, ha="right", va="center")
cw = (159 - 128) / 3
for j, name in enumerate(f_short_cols):
    ov.text(128 + cw * (j + 0.5), 725, name, fontsize=7, rotation=270, ha="center", va="top")
cw = (243 - 168) / 7
for j, name in enumerate(f_long_cols):
    ov.text(168 + cw * (j + 0.5), 725, name, fontsize=7, rotation=270, ha="center", va="top")
ov.text(183, 834, "-log10(FDR)", fontsize=7.5, ha="center", va="center")

fig.savefig("out.png", dpi=100, facecolor="white")
